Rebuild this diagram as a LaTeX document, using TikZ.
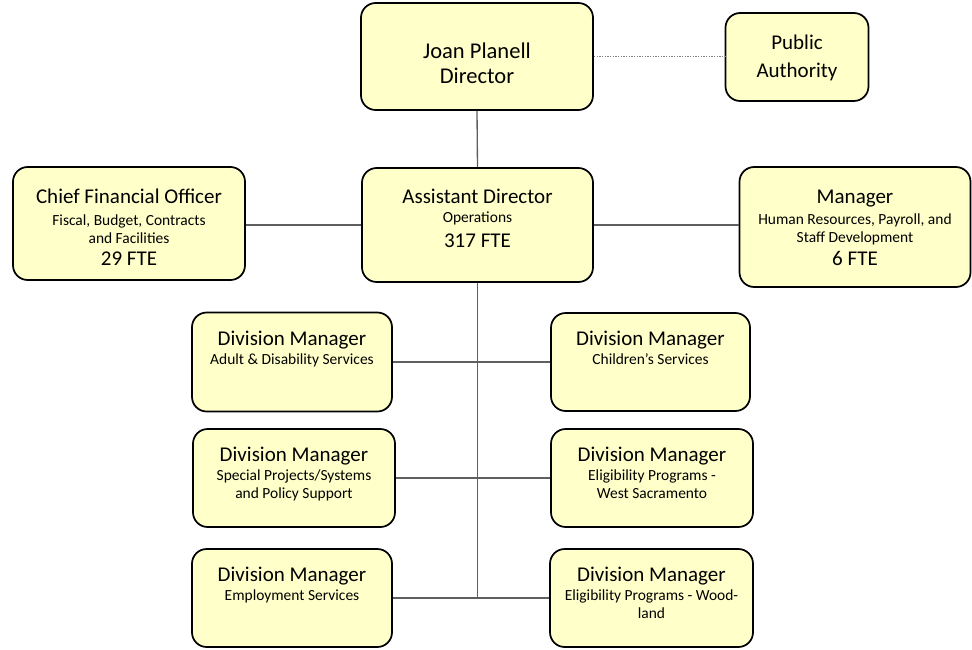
\documentclass[tikz,border=0pt]{standalone}
\usepackage{fontspec}
\setmainfont{Carlito}
\usetikzlibrary{positioning}

\definecolor{unitfill}{RGB}{255,255,202}
\definecolor{linkgray}{RGB}{95,95,95}
\newcommand{\orghead}[1]{{\fontsize{15.75}{18}\selectfont #1}}

\begin{document}
\begin{tikzpicture}[x=0.75pt,y=-0.75pt,
  unit/.style={draw=black, line width=1.3pt, rounded corners=11pt, fill=unitfill},
  unittext/.style={align=center, inner sep=0pt, font=\fontsize{11.6}{13.5}\selectfont},
  link/.style={draw=linkgray, line width=1pt}]
\useasboundingbox (0,0) rectangle (972,650);

% === Top level ===
\node[unit, minimum width=174pt, minimum height=80.25pt] (dir) at (477,56.5) {};
\node[unit, minimum width=107.25pt, minimum height=66pt] (pa) at (797,57) {};
\node[unittext, font=\fontsize{16.9}{18.75}\selectfont, below=30pt of dir.north] (dir-txt)
  {Joan Planell\\Director};
\node[unittext, font=\fontsize{15.75}{21}\selectfont, below=17pt of pa.north] (pa-txt)
  {Public\\Authority};

% === Second level ===
\node[unit, minimum width=174pt, minimum height=84.75pt] (cfo) at (129,223.5) {};
\node[unit, minimum width=173.25pt, minimum height=85.5pt] (ad) at (477.5,225) {};
\node[unit, minimum width=173.25pt, minimum height=90pt] (mgr) at (855,227) {};

\node[unittext, below=16.9pt of cfo.north] (cfo-txt)
  {\orghead{Chief Financial Officer}\\[3.2pt] Fiscal, Budget, Contracts\\ and Facilities\\[2.8pt]
   \orghead{29 FTE}};
\node[unittext, below=16.2pt of ad.north] (ad-txt)
  {\orghead{Assistant Director}\\[1pt] Operations\\[5pt] \orghead{317 FTE}};
\node[unittext, below=17.7pt of mgr.north] (mgr-txt)
  {\orghead{Manager}\\[2.5pt] Human Resources, Payroll, and\\ Staff Development\\[3.5pt]
   \orghead{6 FTE}};

% === Divisions ===
\node[unit, minimum width=150pt, minimum height=74.25pt] (adult) at (292,362) {};
\node[unit, minimum width=149.25pt, minimum height=73.5pt] (child) at (650.5,362) {};
\node[unit, minimum width=151.5pt, minimum height=73.5pt] (spec) at (294,478) {};
\node[unit, minimum width=151.5pt, minimum height=73.5pt] (wsac) at (652,478) {};
\node[unit, minimum width=150pt, minimum height=73.5pt] (emp) at (292,598) {};
\node[unit, minimum width=152.25pt, minimum height=73.5pt] (wood) at (651.5,598) {};

\node[unittext, below=14pt of adult.north] (adult-txt)
  {\orghead{Division Manager}\\[1pt] Adult \& Disability Services};
\node[unittext, below=14pt of child.north] (child-txt)
  {\orghead{Division Manager}\\[1pt] Children’s Services};
\node[unittext, below=14pt of spec.north] (spec-txt)
  {\orghead{Division Manager}\\[1pt] Special Projects/Systems\\ and Policy Support};
\node[unittext, below=14pt of wsac.north] (wsac-txt)
  {\orghead{Division Manager}\\[1pt] Eligibility Programs -\\ West Sacramento};
\node[unittext, below=14pt of emp.north] (emp-txt)
  {\orghead{Division Manager}\\[1pt] Employment Services};
\node[unittext, below=14pt of wood.north] (wood-txt)
  {\orghead{Division Manager}\\[1pt] Eligibility Programs - Wood-\\ land};

% connectors
\draw[link] (dir.south) -- (ad.north);
\draw[link, densely dotted, draw=gray] (dir.east) -- (dir.east -| pa.west);
\draw[link] (ad.west) -- (ad.west -| cfo.east);
\draw[link] (ad.east) -- (ad.east -| mgr.west);
\draw[link] (ad.south) -- (ad.south |- emp.east);
\foreach \lft/\rgt in {adult/child,spec/wsac,emp/wood} {
  \draw[link] (\lft.east) -- (\lft.east -| \rgt.west);
}

\end{tikzpicture}
\end{document}
